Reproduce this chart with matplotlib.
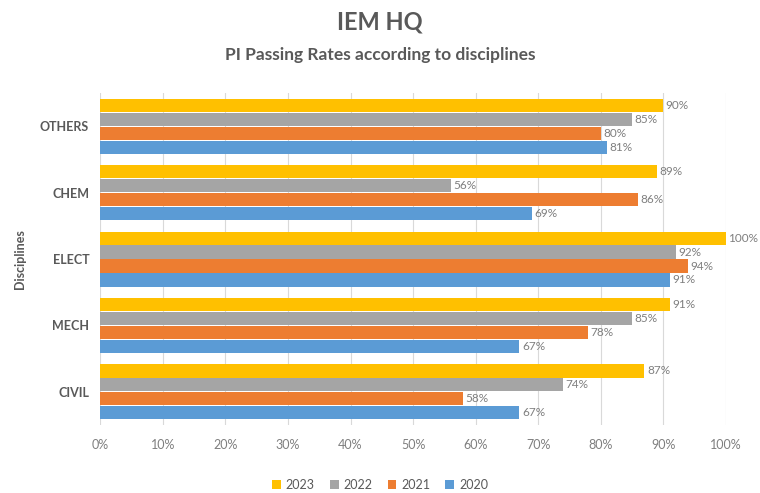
import matplotlib.pyplot as plt
import numpy as np

plt.rcParams['font.family'] = ['Lato', 'DejaVu Sans']

# Data
disciplines = ['CIVIL', 'MECH', 'ELECT', 'CHEM', 'OTHERS']
years = ['2023', '2022', '2021', '2020']
rates_2023 = [87, 91, 100, 89, 90]
rates_2022 = [74, 85, 92, 56, 85]
rates_2021 = [58, 78, 94, 86, 80]
rates_2020 = [67, 67, 91, 69, 81]
colors = ['#FFC000', '#A5A5A5', '#ED7D31', '#5B9BD5']

series = [rates_2023, rates_2022, rates_2021, rates_2020]

fig = plt.figure(figsize=(7.6, 4.93), dpi=100)
ax = fig.add_axes([0.132, 0.138, 0.823, 0.673])

y = np.arange(len(disciplines))
h = 0.21
offsets = [1.5 * h, 0.5 * h, -0.5 * h, -1.5 * h]

for vals, off, col, yr in zip(series, offsets, colors, years):
    bars = ax.barh(y + off, vals, height=h * 0.95, color=col, label=yr, zorder=3)
    for b, v in zip(bars, vals):
        ax.text(v + 0.4, b.get_y() + b.get_height() / 2, f'{v}%',
                va='center', ha='left', fontsize=8.5, color='#7f7f7f', zorder=4)

ax.set_xlim(0, 100)
ax.set_ylim(-0.5, 4.5)
ax.set_xticks(np.arange(0, 101, 10))
ax.set_xticklabels([f'{t}%' for t in range(0, 101, 10)], fontsize=9, color='#7f7f7f')
ax.set_yticks(y)
ax.set_yticklabels(disciplines, fontsize=9, color='#595959', fontweight='bold')
ax.tick_params(axis='both', length=0)
ax.tick_params(axis='x', pad=10)
ax.tick_params(axis='y', pad=8)
ax.grid(axis='x', color='#d9d9d9', linewidth=0.8, zorder=0)
for s in ax.spines.values():
    s.set_visible(False)

ax.set_ylabel('Disciplines', fontsize=9, color='#595959', fontweight='bold', labelpad=10)

fig.text(0.5, 0.955, 'IEM HQ', ha='center', va='center', fontsize=17,
         fontweight='bold', color='#595959')
fig.text(0.5, 0.888, 'PI Passing Rates according to disciplines', ha='center',
         va='center', fontsize=12.5, fontweight='bold', color='#595959')

handles, labels = ax.get_legend_handles_labels()
fig.legend(handles, labels, loc='center', bbox_to_anchor=(0.5, 0.017), ncol=4,
           frameon=False, fontsize=9, handlelength=0.7, handleheight=0.7,
           columnspacing=1.2, handletextpad=0.4, labelcolor='#595959')

fig.savefig('out.png', dpi=100)
